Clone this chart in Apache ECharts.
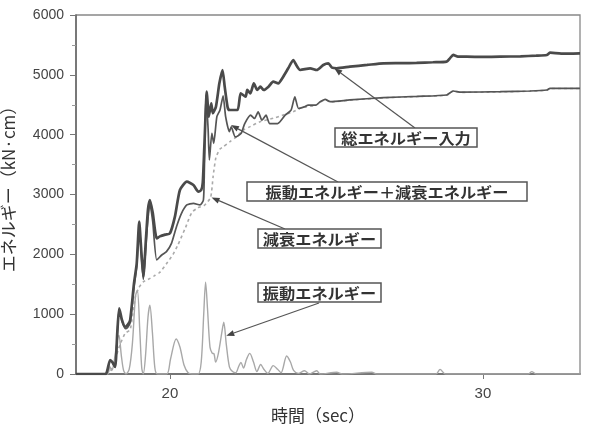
<!DOCTYPE html>
<html>
<head>
<meta charset="utf-8">
<script src="https://cdn.jsdelivr.net/npm/echarts@6/dist/echarts.min.js"></script>
<style>
  html, body { margin: 0; padding: 0; background: #fff; }
  #chart { width: 604px; height: 428px; }
</style>
</head>
<body>
<div id="chart"></div>
<script>
// Energy time histories (time in sec, energy in kN·cm)

// 総エネルギー入力
const totalT = [17.0, 17.95, 18.0, 18.09, 18.16, 18.25, 18.32, 18.38, 18.47, 18.57, 18.65, 18.73, 18.85, 18.94, 19.02, 19.08, 19.15, 19.24, 19.30, 19.36, 19.45, 19.58, 19.68, 19.85, 20.0, 20.16, 20.32, 20.54, 20.75, 20.91, 21.0, 21.05, 21.1, 21.18, 21.24, 21.32, 21.37, 21.47, 21.58, 21.68, 21.75, 21.84, 21.89, 22.16, 22.26, 22.42, 22.47, 22.57, 22.68, 22.79, 22.89, 23.0, 23.15, 23.3, 23.46, 23.62, 23.78, 23.94, 24.05, 24.16, 24.48, 24.69, 24.9, 25.06, 25.18, 25.33, 25.75, 26.3, 26.82, 27.4, 27.88, 28.4, 28.84, 28.95, 29.05, 29.2, 29.48, 30.0, 30.55, 31.2, 31.7, 32.04, 32.14, 32.5, 33.1];
const totalV = [0, 0, 60, 234, 200, 120, 700, 1098, 900, 790, 820, 900, 1500, 1850, 2545, 2100, 1625, 2300, 2750, 2908, 2700, 2268, 2300, 2330, 2350, 2630, 3075, 3214, 3159, 3047, 3075, 3200, 3800, 4718, 4300, 4524, 4357, 4468, 4858, 5081, 4802, 4468, 4412, 4412, 4691, 4635, 4747, 4691, 4858, 4747, 4802, 4747, 4802, 4886, 4858, 4969, 5109, 5248, 5150, 5081, 5109, 5081, 5165, 5193, 5120, 5110, 5136, 5165, 5193, 5195, 5200, 5210, 5220, 5280, 5332, 5305, 5304, 5300, 5304, 5310, 5320, 5332, 5370, 5355, 5360];

// 振動エネルギー＋減衰エネルギー
const sumT = [17.0, 17.95, 18.0, 18.09, 18.16, 18.25, 18.32, 18.38, 18.47, 18.57, 18.65, 18.73, 18.85, 18.94, 19.02, 19.08, 19.15, 19.24, 19.30, 19.36, 19.45, 19.58, 19.74, 19.89, 20.05, 20.21, 20.37, 20.54, 20.75, 20.96, 21.07, 21.1, 21.15, 21.22, 21.26, 21.34, 21.4, 21.5, 21.6, 21.7, 21.78, 21.9, 21.96, 22.09, 22.27, 22.39, 22.58, 22.7, 22.82, 22.94, 23.07, 23.19, 23.44, 23.68, 23.87, 23.99, 24.11, 24.29, 24.42, 24.66, 24.8, 24.96, 25.12, 25.75, 26.82, 27.9, 28.84, 29.05, 29.3, 30.55, 31.5, 32.04, 32.14, 33.1];
const sumV = [0, 0, 50, 220, 190, 110, 680, 1080, 880, 760, 780, 860, 1450, 1800, 2500, 2050, 1580, 2200, 2600, 2850, 2550, 1905, 1989, 2045, 2184, 2462, 2685, 2825, 2853, 2825, 2908, 3400, 4663, 4100, 3577, 4023, 3856, 4300, 4412, 4650, 4300, 4050, 4130, 3962, 4018, 4186, 4325, 4270, 4381, 4242, 4325, 4186, 4186, 4325, 4409, 4632, 4437, 4465, 4493, 4493, 4551, 4591, 4551, 4580, 4618, 4640, 4663, 4730, 4710, 4718, 4730, 4747, 4775, 4775];

// 減衰エネルギー
const dampT = [17.0, 17.95, 18.1, 18.25, 18.4, 18.57, 18.73, 18.9, 19.02, 19.15, 19.3, 19.5, 19.68, 19.9, 20.1, 20.25, 20.5, 20.7, 20.9, 21.1, 21.3, 21.38, 21.47, 21.6, 21.71, 21.92, 22.13, 22.35, 22.56, 22.88, 23.3, 23.62, 23.94, 24.16, 24.35, 24.66, 24.8, 24.96, 25.12, 25.75, 26.82, 27.9, 28.84, 29.05, 29.3, 30.55, 31.5, 32.04, 32.14, 33.1];
const dampV = [0, 0, 40, 250, 480, 680, 740, 1300, 1450, 1540, 1580, 1640, 1700, 1850, 2000, 2150, 2450, 2700, 2780, 2820, 2950, 3300, 3620, 3760, 3800, 3883, 3966, 4078, 4134, 4217, 4273, 4329, 4384, 4440, 4465, 4490, 4545, 4585, 4548, 4577, 4615, 4637, 4660, 4727, 4707, 4715, 4727, 4744, 4772, 4772];

// 振動エネルギー
const vibT = [17.0, 18.0, 18.08, 18.14, 18.2, 18.3, 18.37, 18.45, 18.52, 18.6, 18.7, 18.8, 18.9, 18.96, 19.04, 19.1, 19.15, 19.22, 19.3, 19.36, 19.44, 19.52, 19.6, 19.9, 20.02, 20.2, 20.32, 20.45, 20.58, 20.7, 20.9, 21.0, 21.08, 21.14, 21.2, 21.28, 21.35, 21.41, 21.46, 21.55, 21.66, 21.72, 21.8, 21.9, 22.0, 22.1, 22.2, 22.27, 22.35, 22.45, 22.55, 22.67, 22.78, 22.9, 23.0, 23.13, 23.3, 23.44, 23.55, 23.73, 23.85, 23.95, 24.1, 24.3, 24.45, 24.69, 24.8, 25.33, 25.5, 26.45, 26.6, 28.5, 28.63, 28.8, 31.45, 31.56, 31.7, 33.1];
const vibV = [0, 0, 120, 60, 150, 500, 650, 300, 60, 0, 80, 500, 1300, 1400, 700, 100, 0, 300, 950, 1150, 700, 100, 0, 0, 250, 586, 450, 150, 20, 0, 0, 200, 1000, 1535, 1100, 450, 350, 335, 200, 350, 700, 865, 500, 120, 40, 20, 130, 195, 100, 250, 345, 200, 40, 160, 80, 10, 140, 80, 20, 300, 200, 60, 10, 55, 0, 55, 0, 30, 0, 30, 0, 0, 78, 0, 0, 40, 0, 0];

// Axis ticks
const xTicks = [20, 30];
const yTicks = [0, 1000, 2000, 3000, 4000, 5000, 6000];

// Callout boxes: label, box rect [x, y, w, h], arrow tail (px), arrow head (data)
const callouts = [
  { text: '総エネルギー入力', box: [335, 128, 142, 19], tail: [415, 128], head: [25.25, 5110] },
  { text: '振動エネルギー＋減衰エネルギー', box: [247, 182, 280, 19], tail: [338, 182], head: [21.95, 4160] },
  { text: '減衰エネルギー', box: [258, 229, 123, 19], tail: [285, 229], head: [21.33, 2950] },
  { text: '振動エネルギー', box: [258, 283, 123, 19], tail: [319, 303], head: [21.8, 640] }
];

const pairs = (t, v) => t.map((x, i) => [x, v[i]]);
const JP = '"Noto Sans CJK JP", "Noto Sans", sans-serif';
const NUM = '"Liberation Sans", Arial, sans-serif';

const chart = echarts.init(document.getElementById('chart'), null, { renderer: 'canvas' });

chart.setOption({
  animation: false,
  backgroundColor: '#fff',
  grid: {
    left: 76, right: 24, top: 15, bottom: 54,
    outerBoundsMode: 'none',
    show: true, borderColor: '#888', borderWidth: 1.3
  },
  xAxis: {
    type: 'value', min: 17, max: 33.1,
    axisLine: { show: true, lineStyle: { color: '#666', width: 1.5 } },
    axisTick: { show: true, customValues: xTicks, length: 5, lineStyle: { color: '#777' } },
    axisLabel: { customValues: xTicks, fontFamily: NUM, fontSize: 15, color: '#444', margin: 12 },
    splitLine: { show: false }
  },
  yAxis: {
    type: 'value', min: 0, max: 6000, interval: 1000,
    axisLine: { show: true, lineStyle: { color: '#666', width: 1.5 } },
    axisTick: { show: true, length: 6, lineStyle: { color: '#777' } },
    minorTick: { show: true, splitNumber: 2, length: 4, lineStyle: { color: '#999' } },
    axisLabel: {
      customValues: yTicks, fontFamily: NUM, fontSize: 14, color: '#444', margin: 12,
      formatter: v => String(v)
    },
    splitLine: { show: false }
  },
  series: [
    {
      name: '振動エネルギー', type: 'line', data: pairs(vibT, vibV),
      showSymbol: false, smooth: 0.3,
      lineStyle: { color: '#a8a8a8', width: 1.4 }, z: 1
    },
    {
      name: '減衰エネルギー', type: 'line', data: pairs(dampT, dampV),
      showSymbol: false, smooth: 0.2,
      lineStyle: { color: '#aaa', width: 1.6, type: [3, 3] }, z: 2
    },
    {
      name: '振動エネルギー＋減衰エネルギー', type: 'line', data: pairs(sumT, sumV),
      showSymbol: false, smooth: 0.2,
      lineStyle: { color: '#555', width: 1.7 }, z: 3
    },
    {
      name: '総エネルギー入力', type: 'line', data: pairs(totalT, totalV),
      showSymbol: false, smooth: 0.2,
      lineStyle: { color: '#4a4a4a', width: 2.7 }, z: 4
    }
  ]
});

// Axis names and callouts drawn as graphic elements
const elements = [
  {
    type: 'text', x: 318, y: 416,
    style: { text: '時間（sec）', font: '17px ' + JP, fill: '#333', align: 'center', verticalAlign: 'middle' }
  },
  {
    type: 'text', x: 9, y: 185, rotation: Math.PI / 2,
    style: { text: 'エネルギー（kN·cm）', font: '17px ' + JP, fill: '#333', align: 'center', verticalAlign: 'middle' }
  }
];

callouts.forEach(c => {
  const [bx, by, bw, bh] = c.box;
  const tip = chart.convertToPixel({ gridIndex: 0 }, c.head);
  const [tx, ty] = c.tail;
  const ang = Math.atan2(tip[1] - ty, tip[0] - tx);
  const L = 8, W = 3;
  const back = [tip[0] - L * Math.cos(ang), tip[1] - L * Math.sin(ang)];
  const nx = -Math.sin(ang), ny = Math.cos(ang);
  elements.push({
    type: 'line', z: 100,
    shape: { x1: tx, y1: ty, x2: back[0], y2: back[1] },
    style: { stroke: '#555', lineWidth: 1.2 }
  });
  elements.push({
    type: 'polygon', z: 100,
    shape: { points: [tip, [back[0] + nx * W, back[1] + ny * W], [back[0] - nx * W, back[1] - ny * W]] },
    style: { fill: '#444' }
  });
  elements.push({
    type: 'rect', z: 101,
    shape: { x: bx, y: by, width: bw, height: bh },
    style: { fill: '#fff', stroke: '#555', lineWidth: 1.5 }
  });
  elements.push({
    type: 'text', z: 102, x: bx + bw / 2, y: by + bh / 2 + 1, scaleX: 1.08,
    style: { text: c.text, font: 'bold 15px ' + JP, fill: '#333', align: 'center', verticalAlign: 'middle' }
  });
});

chart.setOption({ graphic: { elements } });
</script>
</body>
</html>
